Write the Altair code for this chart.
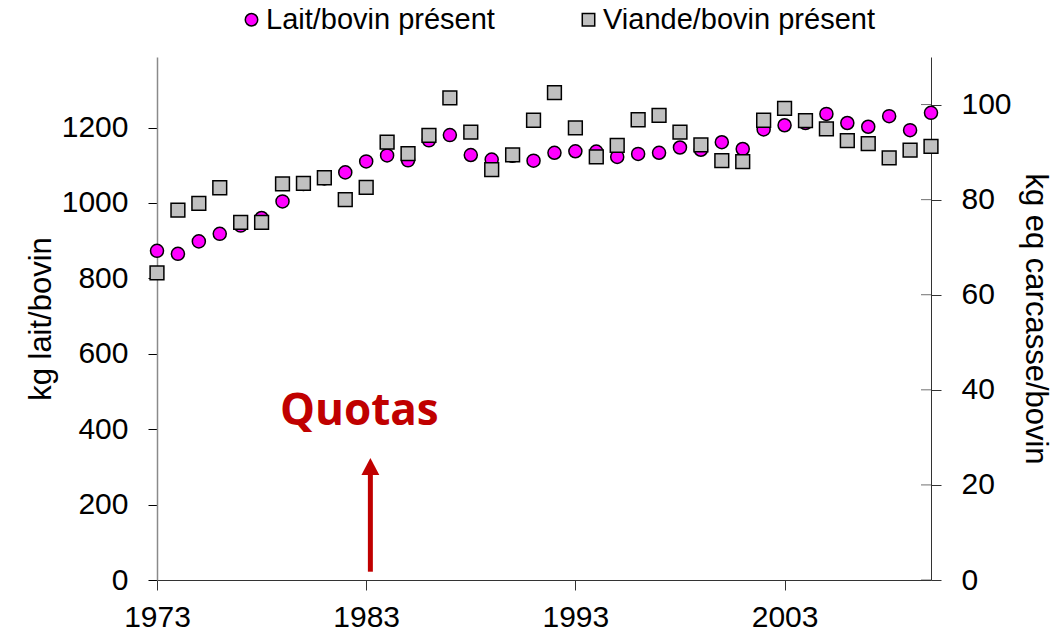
import altair as alt
import pandas as pd

# ---- data ----
years = list(range(1973, 2011))
lait = [873, 865, 898, 918, 940, 960, 1004, 1050, 1065, 1081,
        1110, 1126, 1113, 1166, 1180, 1127, 1115, 1125, 1112, 1133,
        1137, 1136, 1122, 1130, 1133, 1147, 1141, 1161, 1143, 1195,
        1206, 1212, 1236, 1212, 1202, 1230, 1193, 1239]
viande = [64.6, 77.8, 79.2, 82.5, 75.2, 75.2, 83.3, 83.4, 84.6, 80.0,
          82.6, 92.1, 89.7, 93.5, 101.4, 94.2, 86.3, 89.4, 96.7, 102.5,
          95.1, 89.0, 91.4, 96.8, 97.7, 94.2, 91.5, 88.2, 88.0, 96.7,
          99.2, 96.6, 94.9, 92.4, 91.8, 88.8, 90.4, 91.2]
series_names = ["Lait/bovin présent", "Viande/bovin présent"]
series_colors = ["#FF00FF", "#C0C0C0"]
series_shapes = ["circle", "square"]
x_ticks = [1973, 1983, 1993, 2003]
left_ticks = [0, 200, 400, 600, 800, 1000, 1200]
right_ticks = [0, 20, 40, 60, 80, 100]
quota_label = ["Quotas"]
quota_year = [1983.2]
arrow_from = [22]
arrow_to = [290]
arrow_head = [301]
label_level = [412]

FONT = "Liberation Sans"
W, H = 774, 523
LEFT_MAX, RIGHT_MAX = 1387, 110
RED = "#C00000"

df_lait = pd.DataFrame({"annee": years, "valeur": lait, "serie": series_names[0]})
df_viande = pd.DataFrame({"annee": years, "valeur": viande, "serie": series_names[1]})
df_quota = pd.DataFrame({"annee": quota_year, "y0": arrow_from, "y1": arrow_to,
                         "yh": arrow_head, "yl": label_level, "txt": quota_label})
df_rt = pd.DataFrame({"v": right_ticks})

x_scale = alt.Scale(domain=[1973, 2010], nice=False, zero=False)
left_scale = alt.Scale(domain=[0, LEFT_MAX], nice=False)
right_scale = alt.Scale(domain=[0, RIGHT_MAX], nice=False)

x_axis = alt.Axis(values=x_ticks, format="d", title=None, grid=False,
                  labelFont=FONT, labelFontSize=30, labelColor="black",
                  tickSize=10, tickColor="#333333", domainColor="#333333",
                  labelPadding=12, labelFlush=False)
left_axis = alt.Axis(orient="left", values=left_ticks, format="d", title="kg lait/bovin",
                     grid=False, labelFont=FONT, labelFontSize=30, labelColor="black",
                     titleFont=FONT, titleFontSize=31, titleFontWeight="normal",
                     titleColor="black", titlePadding=4,
                     tickSize=9, tickColor="black", domainColor="#8a8a8a",
                     domainWidth=1.5, labelPadding=20)
right_axis = alt.Axis(orient="right", values=right_ticks, format="d",
                      title="kg eq carcasse/bovin",
                      grid=False, labelFont=FONT, labelFontSize=30, labelColor="black",
                      titleFont=FONT, titleFontSize=31, titleFontWeight="normal",
                      titleColor="black", titlePadding=7,
                      tickSize=10, tickColor="#333333", domainColor="#333333",
                      labelPadding=20)

legend = alt.Legend(title=None, orient="none", legendX=80, legendY=-52,
                    direction="horizontal", labelFont=FONT, labelFontSize=29,
                    labelColor="black", labelLimit=500, symbolSize=155,
                    symbolStrokeColor="black", symbolStrokeWidth=1.5,
                    labelOffset=0, columnPadding=79, padding=0)

color = alt.Color("serie:N", scale=alt.Scale(domain=series_names, range=series_colors), legend=legend)
shape = alt.Shape("serie:N", scale=alt.Scale(domain=series_names, range=series_shapes), legend=legend)

X = alt.X("annee:Q", scale=x_scale, axis=x_axis)

pts_lait = alt.Chart(df_lait).mark_point(filled=True, size=170, stroke="black",
                                          strokeWidth=1.5, opacity=1).encode(
    x=X,
    y=alt.Y("valeur:Q", scale=left_scale, axis=left_axis),
    color=color, shape=shape,
)

arrow = alt.Chart(df_quota).mark_rule(strokeWidth=5, color=RED).encode(
    x=X,
    y=alt.Y("y0:Q", scale=left_scale, axis=left_axis),
    y2="y1:Q",
)
head = alt.Chart(df_quota).mark_point(shape="M-1,0.95L1,0.95L0,-0.95Z", size=320,
                                      filled=True, color=RED, opacity=1).encode(
    x=X,
    y=alt.Y("yh:Q", scale=left_scale, axis=left_axis),
)
quota_text = alt.Chart(df_quota).mark_text(font="Open Sans", fontWeight="bold", fontSize=44,
                                           color=RED, align="center", baseline="alphabetic",
                                           dx=-11).encode(
    x=X,
    y=alt.Y("yl:Q", scale=left_scale, axis=left_axis),
    text="txt:N",
)

left_layer = alt.layer(pts_lait, arrow, head, quota_text)

pts_viande = alt.Chart(df_viande).mark_point(filled=True, size=190, stroke="black",
                                              strokeWidth=1.5, opacity=1).encode(
    x=X,
    y=alt.Y("valeur:Q", scale=right_scale, axis=right_axis),
    color=color, shape=shape,
)
inner_ticks = alt.Chart(df_rt).mark_tick(orient="horizontal", size=10, thickness=1,
                                         color="#333333", xOffset=-5).encode(
    x=alt.X(datum=2010, scale=x_scale, axis=x_axis),
    y=alt.Y("v:Q", scale=right_scale, axis=right_axis),
)
right_layer = alt.layer(inner_ticks, pts_viande)

chart = alt.layer(left_layer, right_layer).resolve_scale(y="independent").properties(
    width=W, height=H, autosize="none",
    padding={"left": 149, "top": 49, "right": 122, "bottom": 54},
).configure(font=FONT).configure_view(stroke=None)

chart.save("out.html", embed_options={"renderer": "svg", "actions": False})
